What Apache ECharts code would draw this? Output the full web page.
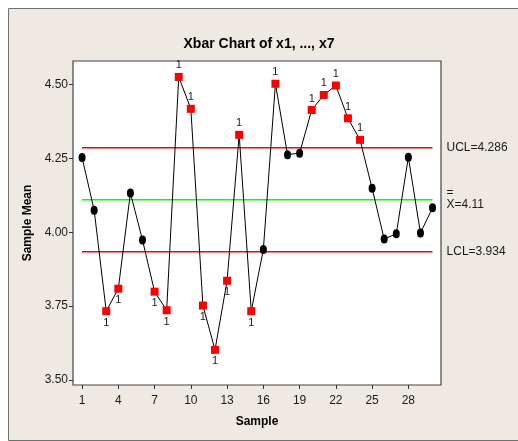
<!DOCTYPE html>
<html>
<head>
<meta charset="utf-8">
<title>Xbar Chart of x1, ..., x7</title>
<script src="https://cdn.jsdelivr.net/npm/echarts@6/dist/echarts.min.js"></script>
<style>
  html, body { margin: 0; padding: 0; background: #fff; }
  #chart { width: 518px; height: 441px; }
</style>
</head>
<body>
<div id="chart"></div>
<script>
// Subgroup means for samples 1..30
const samples = [1, 2, 3, 4, 5, 6, 7, 8, 9, 10, 11, 12, 13, 14, 15,
                 16, 17, 18, 19, 20, 21, 22, 23, 24, 25, 26, 27, 28, 29, 30];
const sampleMeans = [4.253, 4.075, 3.733, 3.809, 4.133, 3.974, 3.799, 3.736, 4.526, 4.418,
                     3.752, 3.602, 3.836, 4.330, 3.733, 3.942, 4.503, 4.263, 4.268, 4.414,
                     4.465, 4.497, 4.386, 4.313, 4.149, 3.977, 3.995, 4.254, 3.998, 4.083];

// Control limits
const ucl = 4.286;
const centerLine = 4.11;
const lcl = 3.934;

// Axis ticks
const xTicks = [1, 4, 7, 10, 13, 16, 19, 22, 25, 28];
const yTicks = [3.50, 3.75, 4.00, 4.25, 4.50];

const FONT = '"Liberation Sans", Arial, sans-serif';
const TXT = '#1a1a1a';

// Points beyond the limits fail test 1: red square flagged with "1"
const meanPoints = samples.map((s, i) => {
  const v = sampleMeans[i];
  const fail = v > ucl || v < lcl;
  if (!fail) {
    return { value: [s, v], symbol: 'circle', symbolSize: [7, 9],
             itemStyle: { color: '#000' } };
  }
  return {
    value: [s, v], symbol: 'rect', symbolSize: [8, 8],
    itemStyle: { color: '#ff0000' },
    label: {
      show: true, formatter: '1', position: v > ucl ? 'top' : 'bottom',
      distance: 2, fontSize: 11, color: TXT, fontFamily: FONT
    }
  };
});

function limitSeries(value, color, labelText) {
  return {
    type: 'line',
    data: [[samples[0], value], [samples[samples.length - 1], value]],
    symbol: 'none',
    silent: true,
    z: 1,
    lineStyle: { color: color, width: 1.5 },
    endLabel: {
      show: true,
      distance: 14,
      formatter: labelText,
      fontFamily: FONT,
      fontSize: 12,
      color: TXT,
      align: 'left',
      rich: {
        bar: { fontFamily: FONT, fontSize: 12, color: TXT, lineHeight: 9 },
        txt: { fontFamily: FONT, fontSize: 12, color: TXT, lineHeight: 14 }
      }
    }
  };
}

const chart = echarts.init(document.getElementById('chart'), null, { renderer: 'canvas' });

const option = {
  animation: false,
  backgroundColor: '#ffffff',
  textStyle: { fontFamily: FONT },
  graphic: [{
    type: 'rect',
    shape: { x: 8.5, y: 8.5, width: 520, height: 432 },
    style: { fill: '#eeeae1', stroke: '#6f6f6f', lineWidth: 1 },
    z: -10, silent: true
  }],
  title: {
    text: 'Xbar Chart of x1, ..., x7',
    left: 'center',
    top: 32,
    textStyle: { fontFamily: FONT, fontSize: 14, fontWeight: 'bold', color: '#000' }
  },
  grid: {
    left: 73, top: 61, width: 368, height: 324,
    show: true, backgroundColor: '#ffffff', borderColor: '#444444', borderWidth: 1.2
  },
  xAxis: {
    type: 'value',
    min: 0.25, max: 30.7,
    name: 'Sample',
    nameLocation: 'middle',
    nameGap: 31,
    nameTextStyle: { fontFamily: FONT, fontSize: 12, fontWeight: 'bold', color: '#000' },
    axisLine: { show: false },
    splitLine: { show: false },
    axisTick: { show: true, customValues: xTicks, length: 4, lineStyle: { color: '#333' } },
    axisLabel: { customValues: xTicks, margin: 10, fontFamily: FONT, fontSize: 12, color: TXT }
  },
  yAxis: {
    type: 'value',
    min: 3.483, max: 4.58,
    name: 'Sample Mean',
    nameLocation: 'middle',
    nameGap: 37,
    nameTextStyle: { fontFamily: FONT, fontSize: 12, fontWeight: 'bold', color: '#000' },
    axisLine: { show: false },
    splitLine: { show: false },
    axisTick: { show: true, customValues: yTicks, length: 4, lineStyle: { color: '#333' } },
    axisLabel: {
      customValues: yTicks, margin: 5, fontFamily: FONT, fontSize: 12, color: TXT,
      formatter: v => v.toFixed(2)
    }
  },
  series: [
    limitSeries(ucl, '#ff0000', 'UCL=' + ucl),
    limitSeries(centerLine, '#00ff00', '{bar|=}\n{txt|X=' + centerLine + '}'),
    limitSeries(lcl, '#ff0000', 'LCL=' + lcl),
    {
      type: 'line',
      data: meanPoints,
      z: 5,
      lineStyle: { color: '#000', width: 1 },
      emphasis: { disabled: true }
    }
  ]
};

chart.setOption(option);
</script>
</body>
</html>
